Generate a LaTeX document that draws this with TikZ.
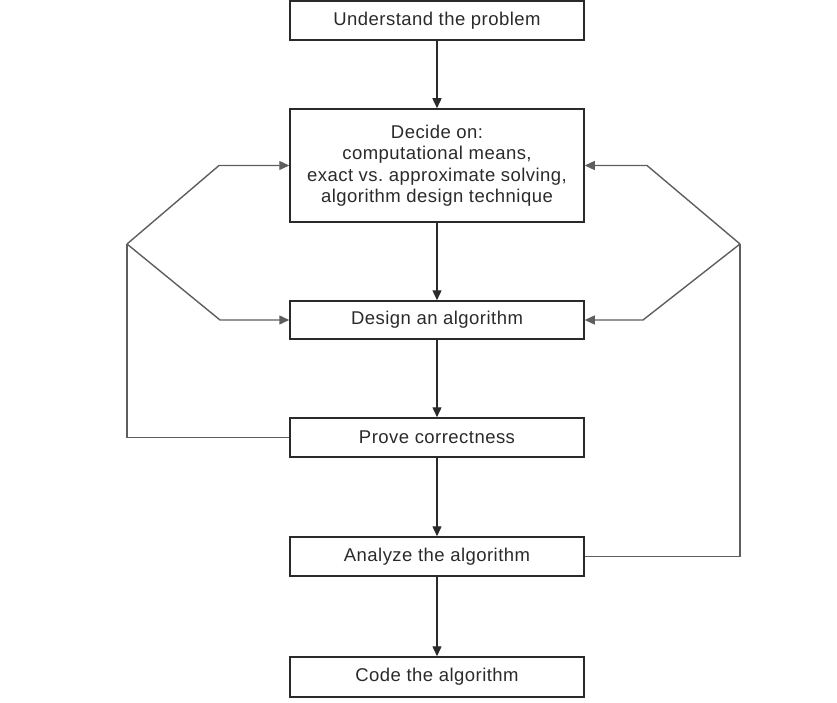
\documentclass[tikz,border=0pt]{standalone}
\usepackage{fontspec}
\setmainfont{Liberation Sans}[LetterSpace=2.5]
\usetikzlibrary{arrows.meta}
\definecolor{ink}{HTML}{2A2A2A}
\definecolor{boxline}{HTML}{2A2A2A}
\definecolor{loopline}{HTML}{5E5E5E}
\begin{document}
\frenchspacing
\begin{tikzpicture}[x=1pt,y=-1pt,
  stepbox/.style={draw=boxline,line width=1.5pt,rectangle,minimum width=294pt,
    inner sep=0pt,align=center,text=ink,font=\fontsize{18.5}{21.5}\selectfont},
  flow/.style={draw=boxline,line width=1.4pt,-{Triangle[length=10pt,width=9pt]}},
  loopln/.style={draw=loopline,line width=1.4pt},
  looparr/.style={loopln,-{Triangle[length=10pt,width=9pt]}}]
  \useasboundingbox (0,0) rectangle (837,703);

  % process steps
  \node[stepbox,minimum height=39pt]  (understand) at (437,20.5)  {Understand the problem};
  \node[stepbox,minimum height=113pt] (decide)     at (437,165.5) {Decide on:\\computational means,\\exact vs. approximate solving,\\algorithm design technique};
  \node[stepbox,minimum height=38pt]  (design)     at (437,320)   {Design an algorithm};
  \node[stepbox,minimum height=39pt]  (prove)      at (437,437.5) {Prove correctness};
  \node[stepbox,minimum height=39pt]  (analyze)    at (437,556.5) {Analyze the algorithm};
  \node[stepbox,minimum height=40pt]  (code)       at (437,677)   {Code the algorithm};

  % main sequence
  \draw[flow] (understand) -- (decide);
  \draw[flow] (decide) -- (design);
  \draw[flow] (design) -- (prove);
  \draw[flow] (prove) -- (analyze);
  \draw[flow] (analyze) -- (code);

  % feedback from proving correctness
  \coordinate (lb) at (127,244);
  \coordinate (lu) at (219,165.5);
  \coordinate (ld) at (220,320);
  \draw[loopln] (prove.west) -| (lb);
  \draw[looparr] (lb) -- (lu) -- (decide.west);
  \draw[looparr] (lb) -- (ld) -- (design.west);

  % feedback from analysis
  \coordinate (rb) at (740,244);
  \coordinate (ru) at (647,165.5);
  \coordinate (rd) at (643,320);
  \draw[loopln] (analyze.east) -| (rb);
  \draw[looparr] (rb) -- (ru) -- (decide.east);
  \draw[looparr] (rb) -- (rd) -- (design.east);
\end{tikzpicture}
\end{document}
